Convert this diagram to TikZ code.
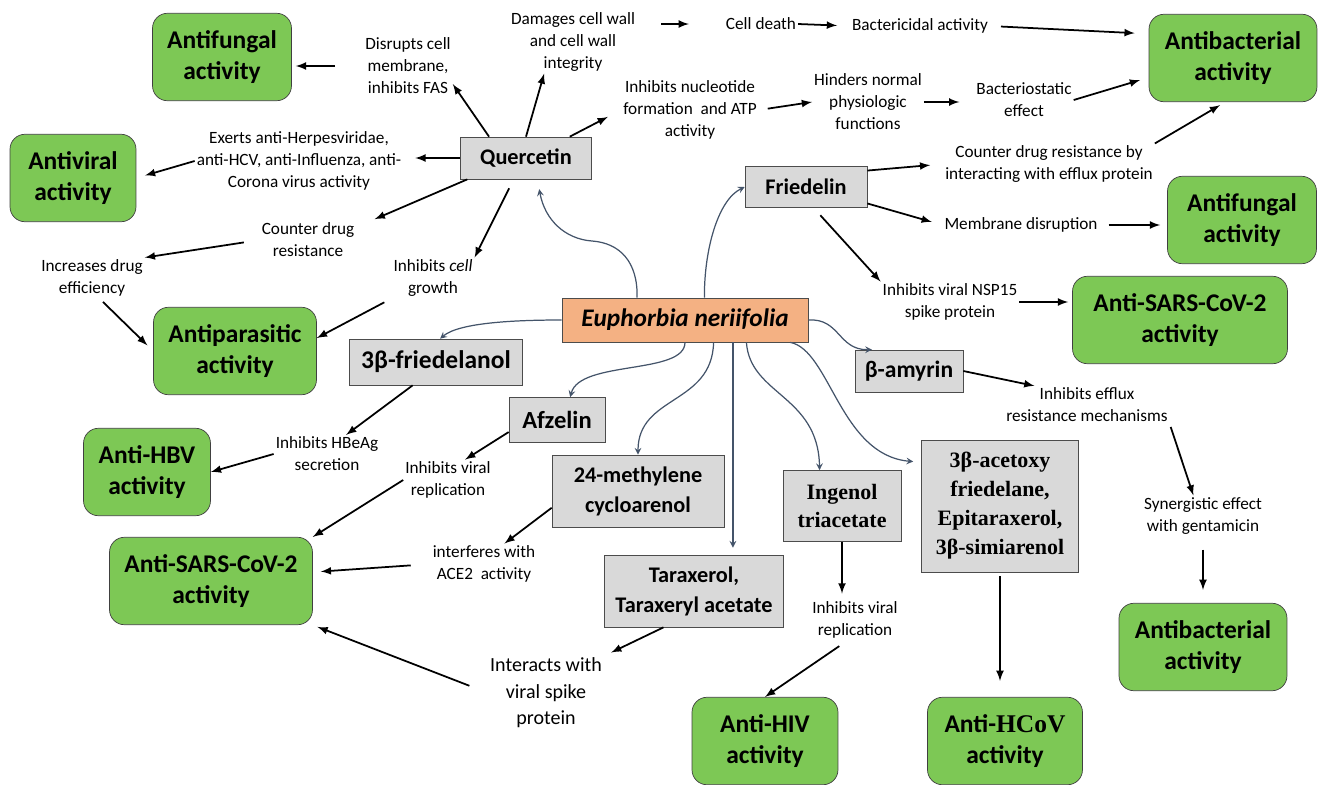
\documentclass[tikz,border=0pt]{standalone}
\usepackage{fontspec}
\setmainfont{Carlito}
\newfontfamily\tnr{Liberation Serif}
\usetikzlibrary{calc}
\definecolor{actgreen}{RGB}{125,200,85}
\definecolor{cmpgray}{RGB}{217,217,217}
\definecolor{srcorange}{RGB}{244,177,131}
\definecolor{linkblue}{RGB}{68,84,106}
\begin{document}
\begin{tikzpicture}[x=0.02cm,y=-0.02cm,
  act/.style={draw=black!75,fill=actgreen,rounded corners=0.3cm,align=center,inner sep=0pt,minimum height=1.75cm,font=\fontsize{14.5}{17.8}\selectfont\bfseries},
  cmp/.style={draw=black!70,fill=cmpgray,align=center,inner sep=0pt,font=\fontsize{12.7}{17}\selectfont\bfseries},
  lbl/.style={align=center,inner sep=1pt,font=\fontsize{9.8}{12.5}\selectfont},
  ar/.style={-latex,line width=1pt},
  crv/.style={-stealth,draw=linkblue,line width=0.7pt}]
  \useasboundingbox (0,0) rectangle (1320,785);

  % plant and compounds
  \node[cmp,fill=srcorange,minimum width=4.92cm,minimum height=0.88cm,font=\fontsize{14.4}{16}\selectfont\bfseries\itshape] (eu) at (685,320) {Euphorbia neriifolia};
  \node[cmp,minimum width=2.62cm,minimum height=0.84cm] (q) at (526,158) {Quercetin};
  \node[cmp,minimum width=2.44cm,minimum height=0.82cm] (fr) at (806,187) {Friedelin};
  \node[cmp,minimum width=3.46cm,minimum height=0.92cm,font=\fontsize{14.5}{17}\selectfont\bfseries] (fol) at (436,362) {3β-friedelanol};
  \node[cmp,minimum width=2.16cm,minimum height=0.84cm,font=\fontsize{13.4}{17}\selectfont\bfseries] (amy) at (909,371) {β-amyrin};
  \node[cmp,minimum width=1.92cm,minimum height=0.90cm,font=\fontsize{14}{17}\selectfont\bfseries] (afz) at (557,420) {Afzelin};
  \node[cmp,minimum width=3.44cm,minimum height=1.44cm] (meth) at (638,491) {24-methylene\\cycloarenol};
  \node[cmp,minimum width=2.36cm,minimum height=1.42cm,font=\fontsize{12.5}{16.4}\selectfont\tnr\bfseries] (ing) at (842,506) {Ingenol\\triacetate};
  \node[cmp,minimum width=3.58cm,minimum height=1.44cm] (tar) at (694,591) {Taraxerol,\\Taraxeryl acetate};
  \node[cmp,minimum width=3.14cm,minimum height=2.64cm,font=\fontsize{12.5}{16.5}\selectfont\tnr\bfseries] (ace) at (1000,506) {3β-acetoxy\\friedelane,\\Epitaraxerol,\\3β-simiarenol};

  % activities
  \foreach \nm/\x/\y/\w/\txt in {af1/222/57/2.78/{Antifungal\\activity},av/73/178/2.52/{Antiviral\\activity},ap/235/351/3.26/{Antiparasitic\\activity},hbv/147/472/2.54/{Anti-HBV\\activity},sars1/211/581/4.06/{Anti-SARS-CoV-2\\activity},hiv/765/741/2.92/{Anti-HIV\\activity},hcov/1005/741/3.10/{Anti-{\tnr HCoV}\\activity},ab2/1203/647/3.36/{Antibacterial\\activity},sars2/1180/320/4.30/{Anti-SARS-CoV-2\\activity},af2/1242/220/2.98/{Antifungal\\activity},ab1/1233/58/3.36/{Antibacterial\\activity}}
  {
    \node[act,minimum width=\w cm] (\nm) at (\x,\y) {\txt};
  }

  % mechanisms
  \foreach \nm/\x/\y/\txt in {dis/408/66/{Disrupts cell\\membrane,\\inhibits FAS},dam/573/42/{Damages cell wall\\and cell wall\\integrity},cd/761/24/{Cell death},bca/920/26/{Bactericidal activity},nuc/690/110/{Inhibits nucleotide\\formation~ and ATP\\activity},hin/868/102/{Hinders normal\\physiologic\\functions},bst/1024/100/{Bacteriostatic\\effect},ext/299/161/{Exerts anti-Herpesviridae,\\anti-HCV, anti-Influenza, anti-\\Corona virus activity},cdr/308/240/{Counter drug\\resistance},idr/92/278/{Increases drug\\efficiency},icg/433/278/{Inhibits \textit{cell}\\growth},cdb/1049/164/{Counter drug resistance by\\interacting with efflux protein},mem/1021/225/{Membrane disruption},nsp/950/302/{Inhibits viral NSP15\\spike protein},eff/1087/405/{Inhibits efflux\\resistance mechanisms},syn/1203/516/{Synergistic effect\\with gentamicin},hbe/327/454/{Inhibits HBeAg\\secretion},ivr1/448/480/{Inhibits viral\\replication},ace2/484/564/{interferes with\\ACE2~ activity},ivr2/855/620/{Inhibits viral\\replication}}
  {
    \node[lbl] (\nm) at (\x,\y) {\txt};
  }
  \node[lbl,font=\fontsize{11.4}{15}\selectfont] (int) at (546,693) {Interacts with\\viral spike\\protein};

  % plant to compounds
  \draw[crv,shorten >=0.2cm] (eu.155) .. controls (638,262) and (620,243) .. (592,241) .. controls (565,239) and (545,220) .. (q.-62);
  \draw[crv] (eu.49) .. controls (704,250) and (718,200) .. (fr.west);
  \draw[crv] (eu.west) .. controls (520,320) and (460,322) .. (fol.80);
  \draw[crv] (eu.east) .. controls (840,318) and (838,350) .. (amy.150);
  \draw[crv] (eu.south) .. controls (685,375) and (580,360) .. (afz.60);
  \draw[crv] (eu.-38) .. controls (712,405) and (638,395) .. (meth.north);
  \draw[crv,shorten >=0.14cm] (eu.-25) -- (eu.-25 |- tar.north);
  \draw[crv] (eu.-20) .. controls (750,395) and (818,395) .. (ing.122);
  \draw[crv,shorten >=0.16cm] (eu.-12) .. controls (830,350) and (840,455) .. (ace.151);

  % quercetin
  \draw[ar,shorten <=0.56cm,shorten >=0.08cm] (dis.west) -- (dis.west -| af1.east);
  \draw[ar] (q.150) -- (dis.-22);
  \draw[ar] (q.north) -- ($(dam.south)!0.45!(dam.south west)$);
  \draw[ar,shorten >=0.3cm] (q.26) -- (nuc.west);
  \draw[ar,shorten <=0.48cm,shorten >=0.7cm] (dam.east |- cd.west) -- (cd.west);
  \draw[ar,shorten >=0.26cm] (cd.east) -- (bca.west);
  \draw[ar,shorten <=0.22cm,shorten >=0.28cm] (bca.east) -- (ab1.164);
  \draw[ar,shorten <=0.18cm] (nuc.east) -- (hin.west);
  \draw[ar,shorten >=0.3cm] (hin.east) -- (hin.east -| bst.west);
  \draw[ar,shorten >=0.18cm] (bst.east) -- (ab1.193);
  \draw[ar,shorten >=0.24cm] (q.west) -- (q.west -| ext.east);
  \draw[ar,shorten >=0.18cm] (ext.west) -- (av.east);
  \draw[ar,shorten >=0.4cm] (q.-160) -- (cdr.15);
  \draw[ar,shorten <=0.32cm] (cdr.west) -- (idr.north east);
  \draw[ar,shorten <=0.2cm] (q.-120) -- (icg.north east);
  \draw[ar,shorten <=0.16cm] (icg.south west) -- (ap.9);
  \draw[ar,shorten <=0.1cm,shorten >=0.16cm] (idr.-70) -- (ap.west);

  % friedelin
  \draw[ar,shorten >=0.26cm] (fr.15) -- (cdb.west);
  \draw[ar,shorten >=0.12cm] (cdb.north east) -- (ab1.-100);
  \draw[ar,shorten >=0.22cm] (fr.-15) -- (mem.west);
  \draw[ar,shorten <=0.18cm,shorten >=0.14cm] (mem.east) -- (mem.east -| af2.west);
  \draw[ar,shorten <=0.2cm] (fr.-70) -- (nsp.north west);
  \draw[ar,shorten >=0.08cm] (nsp.east) -- (nsp.east -| sars2.west);

  % other compounds
  \draw[ar] (fol.-135) -- (hbe.45);
  \draw[ar] (hbe.west) -- (hbv.east);
  \draw[ar] (afz.194) -- (ivr1.50);
  \draw[ar] (ivr1.west) -- (sars1.north east);
  \draw[ar] (meth.191) -- (ace2.45);
  \draw[ar,shorten <=0.4cm,shorten >=0.16cm] (ace2.west) -- (sars1.5);
  \draw[ar,shorten >=0.16cm] (tar.-130) -- (int.north east);
  \draw[ar,shorten <=0.4cm,shorten >=0.1cm] (int.west) -- (sars1.south east);
  \draw[ar,shorten >=0.12cm] (ing.south) -- (ing.south |- ivr2.north);
  \draw[ar,shorten <=0.2cm] (ivr2.-110) -- (hiv.north);
  \draw[ar,shorten <=0.08cm,shorten >=0.32cm] (ace.south) -- (ace.south |- hcov.north);
  \draw[ar] (amy.east) -- (eff.160);
  \draw[ar,shorten <=0.06cm] (eff.south east) -- (syn.115);
  \draw[ar,shorten <=0.26cm,shorten >=0.26cm] (syn.south) -- (ab2.north);
\end{tikzpicture}
\end{document}
